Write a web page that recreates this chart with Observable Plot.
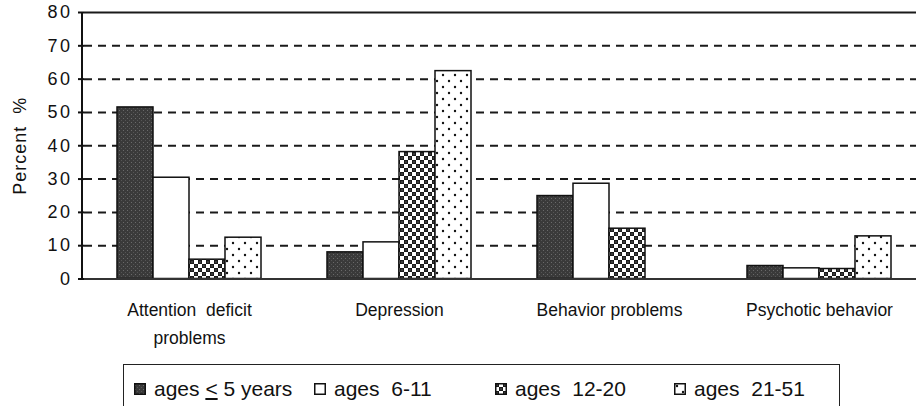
<!DOCTYPE html>
<html>
<head>
<meta charset="utf-8">
<script src="https://cdn.jsdelivr.net/npm/d3@7"></script>
<script src="https://cdn.jsdelivr.net/npm/@observablehq/plot@0.6"></script>
<style>
  html, body { margin: 0; padding: 0; background: #fff; overflow: hidden; }
  body { width: 916px; height: 406px; position: relative; font-family: "Liberation Sans", Arial, sans-serif; color: #111; }
  #chart svg { display: block; overflow: visible; }
  #chart text { white-space: pre; }
  #legend { position: absolute; left: 123px; top: 364px; width: 717px; height: 60px; border: 1.5px solid #222; box-sizing: border-box; }
  .item { position: absolute; top: 12px; display: flex; align-items: center; font-size: 21px; white-space: pre; line-height: 24px; color: #111; }
  .item svg { margin-right: 8px; }
</style>
</head>
<body>
<div id="chart"></div>
<div id="legend"></div>
<script>
// ---- data ----
const categories = ["Attention  deficit\nproblems", "Depression", "Behavior problems", "Psychotic behavior"];
const ageKeys = ["lt5", "6-11", "12-20", "21-51"];
const ageLabels = ["ages < 5 years", "ages  6-11", "ages  12-20", "ages  21-51"];
const valuesLt5 = [51.5, 8.0, 24.9, 3.9];
const values6to11 = [30.4, 11.0, 28.6, 3.2];
const values12to20 = [5.8, 38.1, 15.1, 3.0];
const values21to51 = [12.4, 62.4, 0, 12.8];
const yTicks = [0, 10, 20, 30, 40, 50, 60, 70, 80];
const gridTicks = [10, 20, 30, 40, 50, 60, 70];

const seriesValues = [valuesLt5, values6to11, values12to20, values21to51];
const data = [];
categories.forEach((c, i) => {
  ageKeys.forEach((a, j) => data.push({cat: c, age: a, value: seriesValues[j][i]}));
});

const fills = ["url(#pDark)", "#ffffff", "url(#pChecker)", "url(#pDots)"];

const plot = Plot.plot({
  width: 916,
  height: 358,
  marginLeft: 82,
  marginRight: -9,
  marginTop: 12,
  marginBottom: 79.5,
  style: {fontFamily: "'Liberation Sans', Arial, sans-serif", color: "#111", background: "white"},
  fx: {domain: categories, padding: 0, label: null},
  x: {domain: ageKeys, paddingInner: 0, paddingOuter: 0.85, axis: null},
  y: {domain: [0, 80]},
  color: {type: "ordinal", domain: ageKeys, range: fills},
  marks: [
    Plot.ruleY(gridTicks, {stroke: "#1a1a1a", strokeWidth: 2, strokeDasharray: "8,6"}),
    Plot.ruleY([80], {stroke: "#1a1a1a", strokeWidth: 2}),
    Plot.barY(data, {fx: "cat", x: "age", y: "value", fill: "age", stroke: "#111", strokeWidth: 1.5}),
    Plot.ruleY([0], {stroke: "#333", strokeWidth: 2}),
    Plot.axisY({ticks: yTicks, tickSize: 6, tickPadding: 6, fontSize: 18, label: null, strokeWidth: 2}),
    Plot.axisY({ticks: [], label: "Percent  %", labelAnchor: "center", labelOffset: 71, labelArrow: false, fontSize: 18}),
    Plot.axisFx({anchor: "bottom", tickSize: 0, tickPadding: 16, fontSize: 17.5, lineHeight: 1.65, label: null})
  ]
});

document.getElementById("chart").appendChild(plot);

// pattern definitions
const svg = d3.select(plot);
const defs = svg.insert("defs", ":first-child");
const pd = defs.append("pattern").attr("id", "pDark").attr("patternUnits", "userSpaceOnUse").attr("width", 4).attr("height", 4);
pd.append("rect").attr("width", 4).attr("height", 4).attr("fill", "#3a3a3a");
pd.append("rect").attr("x", 1).attr("y", 2).attr("width", 1).attr("height", 1).attr("fill", "#6a6a6a");
pd.append("rect").attr("x", 3).attr("y", 0).attr("width", 1).attr("height", 1).attr("fill", "#555");
const pc = defs.append("pattern").attr("id", "pChecker").attr("patternUnits", "userSpaceOnUse").attr("width", 8).attr("height", 8);
pc.append("rect").attr("width", 8).attr("height", 8).attr("fill", "#fff");
pc.append("rect").attr("width", 4).attr("height", 4).attr("fill", "#1a1a1a");
pc.append("rect").attr("x", 4).attr("y", 4).attr("width", 4).attr("height", 4).attr("fill", "#1a1a1a");
pc.append("rect").attr("x", 1.5).attr("y", 1.5).attr("width", 1).attr("height", 1).attr("fill", "#999");
pc.append("rect").attr("x", 5.5).attr("y", 5.5).attr("width", 1).attr("height", 1).attr("fill", "#999");
const pt = defs.append("pattern").attr("id", "pDots").attr("patternUnits", "userSpaceOnUse").attr("width", 12).attr("height", 12);
pt.append("rect").attr("width", 12).attr("height", 12).attr("fill", "#fff");
pt.append("circle").attr("cx", 3).attr("cy", 3).attr("r", 1.2).attr("fill", "#111");
pt.append("circle").attr("cx", 9).attr("cy", 9).attr("r", 1.2).attr("fill", "#111");

// left axis line using the plot's own y scale
const ys = plot.scale("y");
svg.append("line")
  .attr("x1", 82).attr("x2", 82)
  .attr("y1", ys.apply(80)).attr("y2", ys.apply(0))
  .attr("stroke", "#111").attr("stroke-width", 2);

svg.selectAll('[aria-label="y-axis tick label"] text').style("letter-spacing", "2.5px");
svg.selectAll('[aria-label="y-axis label"] text').style("letter-spacing", "1px");

// legend
const legendLeft = [10, 190, 371, 550];
const legend = d3.select("#legend");
ageLabels.forEach((lab, i) => {
  const it = legend.append("div").attr("class", "item").style("left", legendLeft[i] + "px");
  const s = it.append("svg").attr("width", 12).attr("height", 12);
  s.append("rect").attr("x", 0.75).attr("y", 0.75).attr("width", 10.5).attr("height", 10.5)
    .attr("fill", fills[i]).attr("stroke", "#111").attr("stroke-width", 1.5);
  const t = it.append("span");
  if (i === 0) {
    t.html('ages <span style="text-decoration: underline">&lt;</span> 5 years');
  } else {
    t.text(lab);
  }
});
</script>
</body>
</html>
